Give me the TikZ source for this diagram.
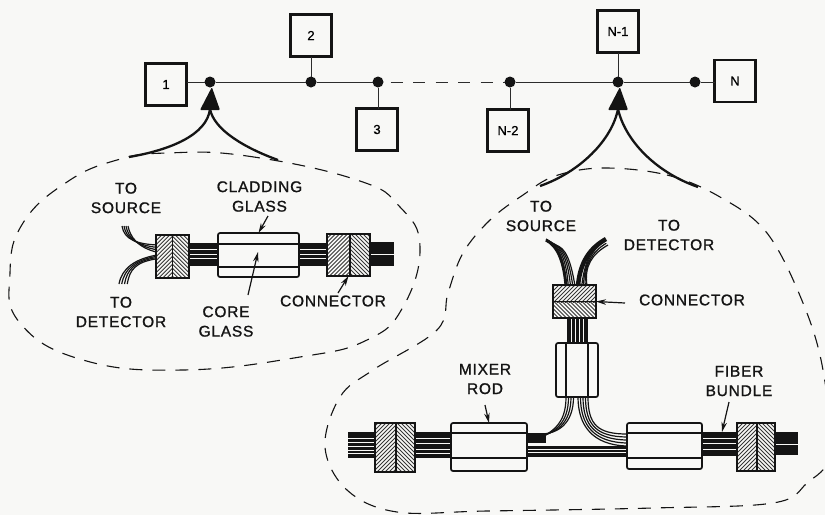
\documentclass[tikz,border=0pt]{standalone}
\usepackage{fontspec}
\setmainfont{Liberation Sans}
\newfontfamily\lblfont[LetterSpace=5,FakeBold=1.2]{Liberation Sans}
\newfontfamily\boxfont[FakeBold=1]{Liberation Sans}
\usetikzlibrary{arrows.meta}
\definecolor{paper}{HTML}{F8F8F6}
\definecolor{ink}{HTML}{141414}
\newcommand{\hatchfill}[5]{% cx cy w h sign
  \begin{scope}
    \clip (#1-#3/2,#2-#4/2) rectangle (#1+#3/2,#2+#4/2);
    \begin{scope}[shift={(#1,#2)}]
      \foreach \k in {-76,-72,...,76}
        \draw[line width=0.8pt,ink!85] (\k-30,30*#5) -- (\k+30,-30*#5);
    \end{scope}
  \end{scope}}
\newcommand{\bundleH}[6]{% x1 x2 y1 y2 list-of-white-lines name
  \fill[ink] (#1,#3) rectangle (#2,#4);
  \foreach \w in {#5} \draw[strand] (#1,\w) -- (#2,\w);
  \coordinate (#6) at ({(#1+#2)/2},#3);}
\newcommand{\rodH}[7]{% name cx cy w h y-i1 y-i2
  \node[rodbox,minimum width=#4pt,minimum height=#5pt] (#1) at (#2,#3) {};
  \draw[thick line] (#1.west |- 0,#6) -- (#1.east |- 0,#6);
  \draw[thick line] (#1.west |- 0,#7) -- (#1.east |- 0,#7);}
\tikzset{
  x=1pt,y=-1pt,
  thick line/.style={line width=1.6pt,ink},
  thin line/.style={line width=1pt,ink!90},
  strand/.style={line width=0.8pt,paper},
  band/.style={line width=1.2pt,ink},
  station/.style={draw=ink,line width=2.2pt,fill=paper,minimum width=41pt,minimum height=42pt,inner sep=0pt,outer sep=0pt,font=\boxfont\fontsize{13}{14}\selectfont},
  junction/.style={circle,fill=ink,minimum size=11pt,inner sep=0pt,outer sep=0pt},
  rodbox/.style={draw=ink,line width=1.7pt,fill=paper,rounded corners=2pt,inner sep=0pt,outer sep=0pt},
  connbox/.style={draw=ink,line width=2.4pt,inner sep=0pt,outer sep=0pt},
  lbl/.style={inner sep=0pt,align=center,text=ink,font=\lblfont\fontsize{15.5}{19.5}\selectfont},
  callout/.style={line width=1.2pt,ink,-{Stealth[length=10pt,width=5.5pt]}},
  outline/.style={line width=1.1pt,ink,dash pattern=on 13pt off 10pt},
  feeder/.style={line width=2.3pt,ink},
}
\begin{document}
\begin{tikzpicture}
\useasboundingbox (0,0) rectangle (825,515);
\fill[paper] (0,0) rectangle (825,515);

% dashed outlines
\draw[outline] plot[smooth cycle,tension=0.75] coordinates {(167,153) (247,156) (357,180) (400,207) (420,247) (403,307) (367,340) (300,357) (183,370) (83,360) (20,323) (10,273) (23,223) (67,182) (117,160)};
\draw[outline] plot[smooth cycle,tension=0.6] coordinates {(603,168) (667,175) (720,197) (767,233) (803,303) (823,370) (830,453) (807,483) (773,503) (653,508) (487,511) (397,512) (347,490) (325,447) (340,397) (373,370) (437,330) (448,293) (463,253) (490,220) (523,195) (555,176)};

% network
\node[station] (b1) at (166,84.5) {1};
\node[station] (b2) at (311,35.5) {2};
\node[station] (b3) at (377,129.5) {3};
\node[station] (b4) at (508,130.5) {N-2};
\node[station] (b5) at (618,31.5) {N-1};
\node[station] (bN) at (735,81) {N};
\node[junction] (d1) at (210,82) {};
\node[junction] (d2) at (311,82) {};
\node[junction] (d3) at (378,82) {};
\node[junction] (d4) at (510,82) {};
\node[junction] (d5) at (618,82) {};
\node[junction] (d6) at (695,82) {};
\draw[thin line] (b1.east |- d1) -- (d1);
\draw[thin line] (d1) -- (d2);
\draw[thin line] (d2) -- (d3);
\draw[thin line,dash pattern=on 12pt off 10.5pt,dash phase=-7pt] (d3) -- (d4);
\draw[thin line] (d4) -- (d5);
\draw[thin line] (d5) -- (d6);
\draw[thin line] (d6) -- (bN.west |- d6);
\draw[thin line] (d2) -- (d2 |- b2.south);
\draw[thin line] (d3) -- (d3 |- b3.north);
\draw[thin line] (d4) -- (d4 |- b4.north);
\draw[thin line] (d5) -- (d5 |- b5.south);

% feeder arrows
\coordinate (fa) at (210,109);
\coordinate (fal) at (129,157);
\coordinate (far) at (278,160);
\coordinate (fb) at (618,109);
\coordinate (fbl) at (540,186);
\coordinate (fbr) at (698,187);
\fill[ink,rounded corners=1pt] (d1) -- (220,110) -- (200,110) -- cycle;
\fill[ink,rounded corners=1pt] (d5) -- (628,110) -- (608,110) -- cycle;
\draw[feeder] (fa) .. controls (207,135) and (170,150) .. (fal);
\draw[feeder] (fa) .. controls (214,130) and (245,148) .. (far);
\draw[feeder] (fb) .. controls (612,140) and (580,172) .. (fbl);
\draw[feeder] (fb) .. controls (625,140) and (655,172) .. (fbr);

% ---------- left assembly
\foreach \d in {0,2,4,6}
  \draw[band] (122+\d,226) .. controls (124+\d,240-\d*0.5) and (138,244+\d*0.6) .. (157,245+\d*1.2);
\foreach \d in {0,2.5,5,7.5}
  \draw[band] (119+\d*1.1,284) .. controls (122+\d,268+\d*0.3) and (135,259+\d*0.4) .. (157,255+\d*0.5);
\bundleH{189}{218}{243}{266}{249,254,258}{bu1}
\bundleH{299}{327}{243}{266}{249,254,258}{bu2}
\bundleH{370}{394}{242}{266}{254.5}{bu3}
\hatchfill{164.25}{256.5}{16.5}{43}{1}
\hatchfill{180.75}{256.5}{16.5}{43}{-1}
\node[connbox,minimum width=33pt,minimum height=43pt] (c1) at (172.5,256.5) {};
\draw[thick line] (c1.north) -- (c1.south);
\rodH{r1}{258.5}{255}{81}{44}{244}{267}
\hatchfill{338.5}{255}{23}{42}{1}
\hatchfill{360}{255}{20}{42}{-1}
\node[connbox,minimum width=43pt,minimum height=42pt] (c2) at (348.5,255) {};
\draw[thick line] (350,234) -- (350,276);

% ---------- right assembly: horizontal part
\bundleH{348}{375}{432}{458}{438,442,446,450,453}{bu4}
\bundleH{415}{451}{432}{458}{438,443,449,453}{bu5}
\bundleH{702}{737}{432}{456}{438,443,449}{bu6}
\bundleH{775}{798}{432}{455}{444}{bu7}
\bundleH{527}{627}{446}{457}{449,452.5}{bu8}
\fill[ink] (527,433) rectangle (546,443);
% branch strands
\foreach \d in {0,2.5,5,7.5}
  \draw[band] (566+\d,397) .. controls (566+\d,425-\d*0.4) and (552+\d,434+\d*0.6-2) .. (533,442-\d*1.1);
\foreach \d in {0,2.5,5,7.5,10}
  \draw[band] (578+\d,397) .. controls (578+\d,425) and (592+\d*0.6,445-\d*1.1) .. (627,446-\d*1.2);
\rodH{r2}{489}{447}{76}{48}{433}{458}
\rodH{r3}{664.5}{446}{75}{46}{433}{458}
\hatchfill{385.5}{447.5}{21}{49}{1}
\hatchfill{405.5}{447.5}{19}{49}{-1}
\node[connbox,minimum width=40pt,minimum height=49pt] (c3) at (395,447.5) {};
\draw[thick line] (396,423) -- (396,472);
\hatchfill{747}{447}{20}{48}{1}
\hatchfill{766}{447}{18}{48}{-1}
\node[connbox,minimum width=38pt,minimum height=48pt] (c4) at (756,447) {};
\draw[thick line] (757,423) -- (757,471);

% vertical branch
\fill[ink] (567,318) rectangle (588,343);
\foreach \x in {571,575,579,583} \draw[strand] (\x,318) -- (\x,343);
\foreach \d in {0,2.5,5,7.5,10}
  \draw[band] (546+\d*0.9,239+\d*0.6) .. controls (560+\d*0.6,247) and (565+\d*0.6,262) .. (566+\d*0.9,286);
\draw[line width=3pt,ink] (546,240) .. controls (558,246) and (564,262) .. (566,286);
\foreach \d in {0,2.5,5,7.5}
  \draw[band] (608-\d*0.7,245-\d*0.7) .. controls (592-\d*0.3,254-\d*0.7) and (584,266) .. (587-\d*0.7,286);
\draw[line width=4.5pt,ink] (606,239) .. controls (590,248) and (580,262) .. (578,286);
\hatchfill{574.5}{293.5}{43}{17}{1}
\hatchfill{574.5}{310}{43}{17}{-1}
\node[connbox,minimum width=43pt,minimum height=33pt] (c5) at (574.5,301.5) {};
\draw[thick line] (c5.west) -- (c5.east);
\node[rodbox,minimum width=42pt,minimum height=54pt] (r4) at (577,370) {};
\draw[thick line] (566,343) -- (566,397);
\draw[thick line] (588,343) -- (588,397);

% labels
\node[lbl] (t1) at (126,198) {TO\\SOURCE};
\node[lbl] (t2) at (259.5,196.5) {CLADDING\\GLASS};
\node[lbl] (t3) at (121,312) {TO\\DETECTOR};
\node[lbl] (t4) at (226,321.5) {CORE\\GLASS};
\node[lbl] (t5) at (333,301) {CONNECTOR};
\node[lbl] (t6) at (541,216) {TO\\SOURCE};
\node[lbl] (t7) at (669,235) {TO\\DETECTOR};
\node[lbl] (t8) at (692,300) {CONNECTOR};
\node[lbl] (t9) at (485,379) {MIXER\\ROD};
\node[lbl] (t10) at (739,381) {FIBER\\BUNDLE};

% callouts
\coordinate (a1) at (268,216);
\coordinate (a2) at (248,295);
\coordinate (a3) at (338,293);
\coordinate (a4) at (625,303);
\coordinate (a5) at (485,405);
\coordinate (a6) at (729,402);
\coordinate (p2) at (258,252);
\coordinate (p6) at (722,432);
\draw[callout] (a1) -- (r1.north);
\draw[callout] (a2) -- (p2);
\draw[callout] (a3) -- (c2.south);
\draw[callout] (a4) -- (c5.east);
\draw[callout] (a5) -- (r2.north);
\draw[callout] (a6) -- (p6);
\end{tikzpicture}
\end{document}
